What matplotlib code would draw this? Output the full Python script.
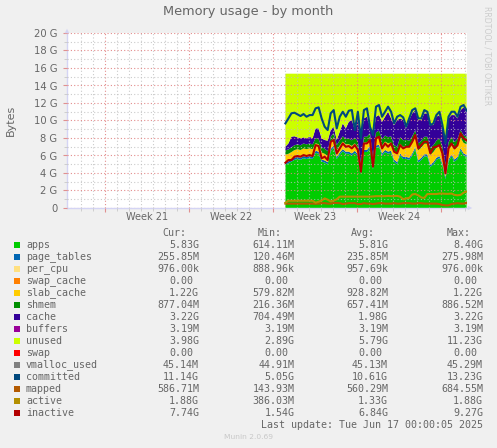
import numpy as np
import matplotlib
matplotlib.use('Agg')
import matplotlib.pyplot as plt
from matplotlib.patches import Rectangle

W, H = 497, 448

# all values in G, one sample every quarter day
apps = [5.0,5.1,5.3,5.5,5.6,5.5,5.7,5.6,5.7,5.6,
        6.3,6.2,5.3,5.2,5.0,6.5,6.9,5.6,6.1,6.5,
        6.2,6.2,6.0,6.3,5.9,3.9,6.4,6.4,6.8,4.4,
        6.9,7.0,6.0,6.4,6.2,6.3,5.3,5.0,6.0,5.6,
        5.6,5.5,6.0,6.7,5.2,5.5,5.9,5.9,4.7,5.0,
        5.5,5.7,4.9,3.3,5.3,5.9,5.3,5.6,6.6,6.0,5.83]
page_tables = [0.24]*61
per_cpu = [0.001]*61
swap_cache = [0.0]*61
slab_cache = [0.85,0.85,0.85,0.88,0.88,0.88,0.88,0.88,0.88,0.88,
              0.85,0.85,0.8,0.75,0.7,0.8,0.85,0.75,0.8,0.85,
              0.85,0.85,0.85,0.85,0.8,0.6,0.85,0.85,0.85,0.65,
              0.85,0.9,0.9,0.95,0.95,0.95,0.95,1.05,1.1,1.15,
              1.2,1.2,1.2,1.15,1.15,1.15,1.2,1.2,1.15,1.15,
              1.15,1.15,1.05,0.8,1.1,1.15,1.15,1.2,1.2,1.2,1.22]
shmem = [0.5,0.5,0.55,0.55,0.55,0.55,0.55,0.55,0.55,0.55,
         0.6,0.6,0.6,0.6,0.55,0.6,0.6,0.6,0.6,0.6,
         0.6,0.65,0.65,0.65,0.65,0.4,0.65,0.65,0.65,0.45,
         0.65,0.7,0.7,0.7,0.7,0.7,0.7,0.7,0.75,0.75,
         0.75,0.75,0.75,0.8,0.8,0.8,0.8,0.8,0.8,0.8,
         0.8,0.85,0.85,0.6,0.85,0.85,0.85,0.85,0.88,0.88,0.88]
cache = [0.41,0.69,1.21,1.03,0.8,0.79,0.7,0.69,0.78,0.69,
         1.11,1.21,1.02,0.98,1.2,0.77,0.7,0.58,0.98,1.48,
         1.21,1.92,2.31,0.87,2.46,2.82,2.1,2.29,0.75,2.6,
         1.79,1.78,2.02,2.14,2.91,2.05,2.29,3.06,2.15,2.31,
         1.31,2.36,2.62,2.3,2.66,2.36,2.67,2.67,2.59,2.29,
         2.74,2.68,2.25,2.25,2.75,2.48,3.08,2.35,2.27,3.2,3.0]
buffers = [0.003]*61
mem_total = 15.35  # physical memory, the unused area always fills up to it

swap = [0.0]*61
vmalloc_used = [0.045]*61
committed = [9.67,10.24,10.82,10.89,10.7,10.51,10.74,10.43,10.62,10.62,
             11.39,11.5,10.24,9.29,8.91,10.82,11.19,9.1,10.43,11.0,
             10.43,11.12,11.19,8.91,11.0,7.95,11.19,11.39,9.29,8.34,
             11.58,11.77,10.43,11.0,11.58,11.0,9.67,10.43,10.62,10.36,
             9.29,10.24,11.19,11.39,10.24,10.24,11.19,11.0,9.48,9.67,
             10.62,11.0,9.48,7.38,10.43,11.0,11.0,10.43,11.58,11.77,11.14]
mapped = [0.5,0.5,0.5,0.5,0.5,0.5,0.5,0.5,0.5,0.5,
          0.48,0.5,0.55,0.55,0.5,0.5,0.58,0.58,0.55,0.45,
          0.5,0.55,0.55,0.55,0.45,0.45,0.55,0.5,0.5,0.45,
          0.5,0.55,0.55,0.5,0.5,0.5,0.55,0.5,0.5,0.55,
          0.55,0.55,0.5,0.5,0.55,0.55,0.5,0.5,0.5,0.5,
          0.5,0.45,0.35,0.3,0.3,0.45,0.5,0.55,0.5,0.5,0.59]
active = [0.6,0.83,0.83,0.83,0.83,0.83,0.83,0.83,0.83,0.83,
          0.6,0.72,0.85,1.1,0.95,0.75,0.85,1.0,1.3,1.3,
          1.3,1.3,1.3,1.3,1.3,1.3,1.3,1.3,1.3,1.32,
          1.35,1.35,1.35,1.35,1.38,1.35,1.37,1.38,1.3,1.0,
          1.1,1.15,1.55,1.6,1.45,1.2,1.15,1.6,1.6,1.6,
          1.6,1.65,1.65,1.62,1.62,1.65,1.5,1.45,1.5,1.75,1.88]
inactive = [5.17,5.48,5.48,5.86,5.94,5.86,6.05,5.94,6.05,5.94,
            7.19,7.08,5.67,5.86,5.48,7.57,7.77,6.24,6.81,7.38,
            7.0,7.08,6.81,7.19,6.62,4.15,7.38,7.38,7.77,4.72,
            7.96,8.15,6.81,7.38,7.0,7.38,6.43,6.24,7.19,6.81,
            7.0,7.0,7.57,8.34,6.81,7.19,7.57,7.57,6.24,6.93,
            7.0,7.19,6.24,3.96,6.81,7.38,6.81,7.19,8.53,7.96,7.74]

names = ['apps','page_tables','per_cpu','swap_cache','slab_cache','shmem','cache','buffers',
         'unused','swap','vmalloc_used','committed','mapped','active','inactive']
colors = ['#00CC00','#0066B3','#FFE080','#FF8000','#FFCC00','#008F00','#330099','#990099',
          '#CCFF00','#FF0000','#808080','#00487D','#B35A00','#B38F00','#B30000']
cur = ['5.83G','255.85M','976.00k','0.00','1.22G','877.04M','3.22G','3.19M',
       '3.98G','0.00','45.14M','11.14G','586.71M','1.88G','7.74G']
mins = ['614.11M','120.46M','888.96k','0.00','579.82M','216.36M','704.49M','3.19M',
        '2.89G','0.00','44.91M','5.05G','143.93M','386.03M','1.54G']
avgs = ['5.81G','235.85M','957.69k','0.00','928.82M','657.41M','1.98G','3.19M',
        '5.79G','0.00','45.13M','10.61G','560.29M','1.33G','6.84G']
maxs = ['8.40G','275.98M','976.00k','0.00','1.22G','886.52M','3.22G','3.19M',
        '11.23G','0.00','45.29M','13.23G','684.55M','1.88G','9.27G']

week_labels = ['Week 21','Week 22','Week 23','Week 24']

text_col = '#666666'
blue_axis = '#D4D4F4'

fig = plt.figure(figsize=(W/100, H/100), dpi=100, facecolor='#F0F0F0')
ax = fig.add_axes([67/W, 1-208/H, 400/W, 175/H], facecolor='white')

# x axis is in days from the left edge, 12 px a day
days = np.linspace(18.2, 33.3, 61)
below = [apps, page_tables, per_cpu, swap_cache, slab_cache, shmem, cache, buffers]
unused = mem_total - np.sum(below, axis=0)

ax.stackplot(days, *below, unused, colors=colors[:9], linewidth=0, zorder=1)

for series, name in [(swap,'swap'),(vmalloc_used,'vmalloc_used'),(committed,'committed'),
                     (mapped,'mapped'),(active,'active'),(inactive,'inactive')]:
    if name in ('swap','vmalloc_used'):
        continue  # hidden under the others in the reference
    ax.plot(days, series, color=colors[names.index(name)], lw=1.5, zorder=3)

ax.set_xlim(0, 400/12)
ax.set_ylim(0, 20)

ax.set_yticks(np.arange(0, 21, 2))
ax.set_yticks(np.arange(0, 21, 1), minor=True)
ax.set_yticklabels(['0'] + ['%d G' % v for v in range(2, 21, 2)])
major_days = [38/12 + 7*i for i in range(5)]
ax.set_xticks(major_days)
ax.set_xticks(np.arange(14/12, 400/12, 1), minor=True)
ax.set_xticklabels([])

ax.grid(which='minor', color='#BEBEBE', lw=0.8, ls=(0, (1, 2)), alpha=0.8)
ax.grid(which='major', color='#E08080', lw=0.8, ls=(0, (1, 2)), alpha=0.9)
ax.set_axisbelow(False)

ax.tick_params(which='major', axis='both', length=3, width=0.8, color='#E09090',
               labelcolor=text_col, labelsize=7.2, pad=4)
ax.tick_params(which='minor', axis='both', length=2, width=0.6, color='#C8C8C8')

for s in ['top', 'right']:
    ax.spines[s].set_visible(False)
for s in ['left', 'bottom']:
    ax.spines[s].set_color(blue_axis)
    ax.spines[s].set_linewidth(1)

# arrow heads at the axis ends
ax.annotate('', xy=(0, 1.04), xytext=(0, 0.99), xycoords='axes fraction',
            arrowprops=dict(arrowstyle='-|>', color=blue_axis, lw=0, mutation_scale=8))
ax.annotate('', xy=(1.02, 0), xytext=(0.99, 0), xycoords='axes fraction',
            arrowprops=dict(arrowstyle='-|>', color=blue_axis, lw=0, mutation_scale=8))


def ftext(x, y, s, **kw):
    kw.setdefault('va', 'center')
    kw.setdefault('color', text_col)
    return fig.text(x/W, 1-y/H, s, **kw)


ftext(248, 11, 'Memory usage - by month', ha='center', fontsize=9.3)
ftext(11, 120, 'Bytes', ha='center', rotation=90, fontsize=8)
ftext(487, 56, 'RRDTOOL / TOBI OETIKER', ha='center', rotation=270, fontsize=5.6, color='#CCCCCC')
ftext(248, 437, 'Munin 2.0.69', ha='center', fontsize=5.4, color='#C8C8C8')

for i, lab in enumerate(week_labels):
    ftext(147 + 84*i, 217.5, lab, ha='center', fontsize=7)

mono = dict(family='DejaVu Sans Mono', fontsize=7.17)
col_right = [199, 294.5, 388, 483]
heads = ['Cur:', 'Min:', 'Avg:', 'Max:']
for xr, head in zip(col_right, heads):
    ftext(xr-12.8, 232.5, head, ha='right', **mono)

row_y = 244.7
for i, name in enumerate(names):
    y = row_y + 12*i
    fig.add_artist(Rectangle((14/W, 1-(y+3)/H), 6/W, 6/H, transform=fig.transFigure,
                             facecolor=colors[i], edgecolor='none'))
    ftext(26, y, name, **mono)
    for xr, vals in zip(col_right, [cur, mins, avgs, maxs]):
        # plain zeros lose the unit column, so they sit one char to the left
        shift = 6 if vals[i] == '0.00' else 0
        ftext(xr-shift, y, vals[i], ha='right', **mono)

ftext(483, 424.7, 'Last update: Tue Jun 17 00:00:05 2025', ha='right', **mono)

fig.savefig('out.png', dpi=100, facecolor=fig.get_facecolor())
